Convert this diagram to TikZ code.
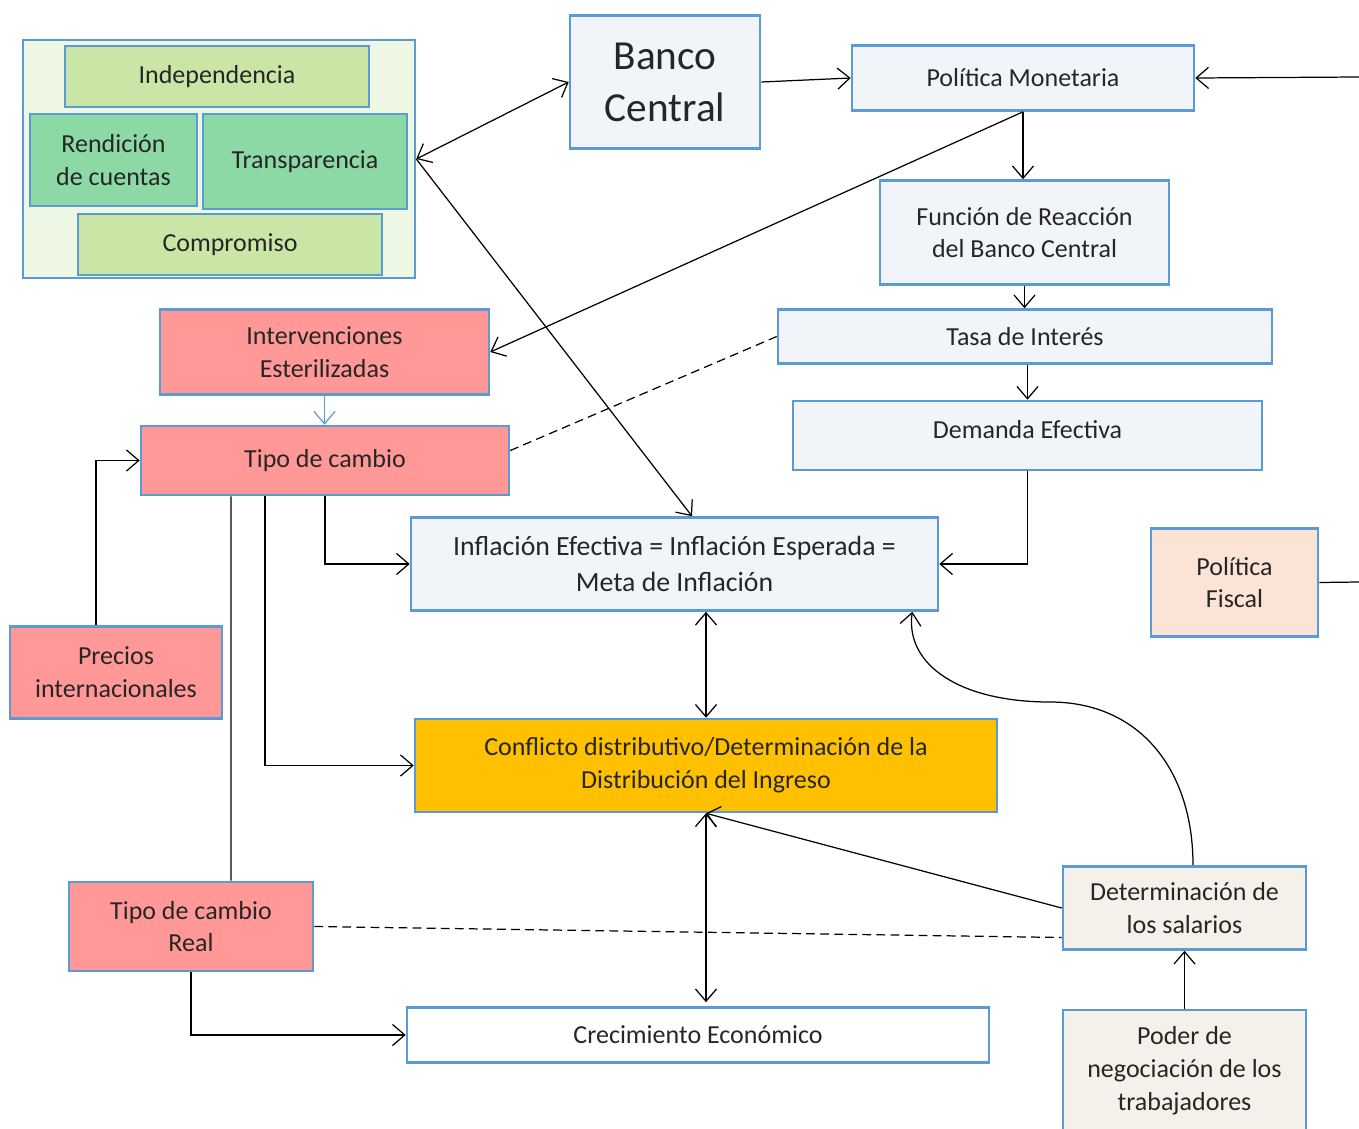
\documentclass[tikz,border=0pt]{standalone}
\usepackage{fontspec}
\setmainfont{Carlito}
\usepackage{tikz}
\usetikzlibrary{arrows.meta}

\definecolor{borde}{HTML}{5B9BD5}
\definecolor{azulclaro}{HTML}{F1F5FA}
\definecolor{verdefondo}{HTML}{EEF6E4}
\definecolor{verdeclaro}{HTML}{C9E6A6}
\definecolor{verdementa}{HTML}{8CD9A6}
\definecolor{rosa}{HTML}{FF9896}
\definecolor{durazno}{HTML}{FBE4D5}
\definecolor{naranja}{HTML}{FFC000}
\definecolor{crema}{HTML}{F3F1EA}

\begin{document}
\begin{tikzpicture}[x=0.02cm,y=-0.02cm,>={Straight Barb[length=7pt,width=12pt]}]
\tikzstyle{caja} = [draw=borde,line width=1.5pt,inner sep=0pt,align=center,text=black!85,font=\fontsize{14.8}{18.7}\selectfont];
\tikzstyle{azul} = [caja,fill=azulclaro];
\tikzstyle{rosada} = [caja,fill=rosa];
\tikzstyle{crem} = [caja,fill=crema];
\tikzstyle{flecha} = [->,line width=0.7pt];
\tikzstyle{doble} = [<->,line width=0.7pt];
\tikzstyle{linea} = [line width=0.7pt];
\tikzstyle{punteada} = [dash pattern=on 5pt off 3pt,line width=0.7pt];
\useasboundingbox (0,0) rectangle (1359,1129);

% bloque de la izquierda
\node [caja,fill=verdefondo,minimum width=7.84cm,minimum height=4.76cm] (grp) at (219,159) {};
\node [caja,fill=verdeclaro,minimum width=6.08cm,minimum height=1.22cm] (ind) at (217,76.5) {Independencia};
\node [caja,fill=verdementa,minimum width=3.34cm,minimum height=1.84cm] (rc) at (113.5,160) {Rendición\\de cuentas};
\node [caja,fill=verdementa,minimum width=4.08cm,minimum height=1.9cm] (tr) at (305,161.5) {Transparencia};
\node [caja,fill=verdeclaro,minimum width=6.08cm,minimum height=1.22cm] (com) at (230,244.5) {Compromiso};

\node [azul,minimum width=3.8cm,minimum height=2.66cm,font=\fontsize{23.5}{29.5}\selectfont] (bc) at (665,82) {Banco\\Central};
\node [azul,minimum width=6.84cm,minimum height=1.3cm] (pm) at (1023,78) {Política Monetaria};
\node [azul,minimum width=5.78cm,minimum height=2.08cm] (frbc) at (1024.5,232.5) {Función de Reacción\\del Banco Central};
\node [azul,minimum width=9.88cm,minimum height=1.08cm] (ti) at (1025,336.5) {Tasa de Interés};
\node [azul,minimum width=9.38cm,minimum height=1.38cm] (de) at (1027.5,435.5) {\raisebox{0.25cm}{Demanda Efectiva}};
\node [rosada,minimum width=6.58cm,minimum height=1.7cm] (ie) at (324.5,352) {Intervenciones\\Esterilizadas};
\node [rosada,minimum width=7.36cm,minimum height=1.38cm] (tc) at (325,460.5) {Tipo de cambio};
\node [azul,minimum width=10.54cm,minimum height=1.86cm,font=\fontsize{15.8}{20.4}\selectfont] (inf) at (674.5,564) {Inflación Efectiva = Inflación Esperada =\\Meta de Inflación};
\node [caja,fill=durazno,minimum width=3.34cm,minimum height=2.16cm] (pf) at (1234.5,582.5) {Política\\Fiscal};
\node [rosada,minimum width=4.24cm,minimum height=1.84cm] (pi) at (116,672.5) {Precios\\internacionales};
\node [caja,fill=naranja,minimum width=11.64cm,minimum height=1.86cm] (cd) at (706,765.5) {Conflicto distributivo/Determinación de la\\Distribución del Ingreso};
\node [rosada,minimum width=4.88cm,minimum height=1.78cm] (tcr) at (191,926.5) {Tipo de cambio\\Real};
\node [caja,fill=white,minimum width=11.64cm,minimum height=1.1cm] (ce) at (698,1035) {Crecimiento Económico};
\node [crem,minimum width=4.86cm,minimum height=1.66cm] (ds) at (1184.5,908) {Determinación de\\los salarios};
\node [crem,minimum width=4.86cm,minimum height=2.44cm] (pn) at (1184.5,1071) {Poder de\\negociación de los\\trabajadores};

\coordinate (pmin) at (1359,77);
\coordinate (pfout) at (1359,582);

% conexiones
\draw [doble] (grp.east) -- (bc.west);
\draw [flecha] (bc.east) -- (pm.west);
\draw [flecha] (pmin) -- (pm.east);
\draw [flecha] (pm.south) -- (pm.south |- frbc.north);
\draw [flecha] (pm.south) -- (ie.east);
\draw [flecha] (frbc.south) -- (frbc.south |- ti.north);
\draw [flecha] (ti.south -| de.north) -- (de.north);
\draw [flecha] (grp.east) -- ([xshift=0.35cm]inf.north);
\draw [flecha,draw=borde] (ie.south) -- (ie.south |- tc.north);
\draw [punteada] ([yshift=0.2cm]tc.east) -- (ti.west);
\draw [flecha] ([xshift=-0.4cm]pi.north) |- (tc.west);
\draw [flecha] (tc.south) |- (inf.west);
\draw [flecha] ([xshift=-1.2cm]tc.south) |- (cd.west);
\draw [linea] ([xshift=-1.88cm]tc.south) -- ([xshift=0.8cm]tcr.north);
\draw [flecha] (de.south) |- (inf.east);
\draw [doble] (inf.south -| cd.north) -- (cd.north);
\draw [flecha] ([xshift=0.17cm]ds.north) .. controls (1193,770) and (1140,702) .. (1050,702) .. controls (960,702) and (905,665) .. ([xshift=-0.54cm]inf.south east);
\draw [flecha] (ds.west) -- (cd.south);
\draw [doble] (cd.south) -- ([yshift=0.08cm]cd.south |- ce.north);
\draw [punteada] (tcr.east) -- ([yshift=-0.59cm]ds.west);
\draw [flecha] (tcr.south) |- (ce.west);
\draw [flecha] (pn.north) -- (ds.south);
\draw [linea] (pf.east) -- (pfout);
\end{tikzpicture}
\end{document}
